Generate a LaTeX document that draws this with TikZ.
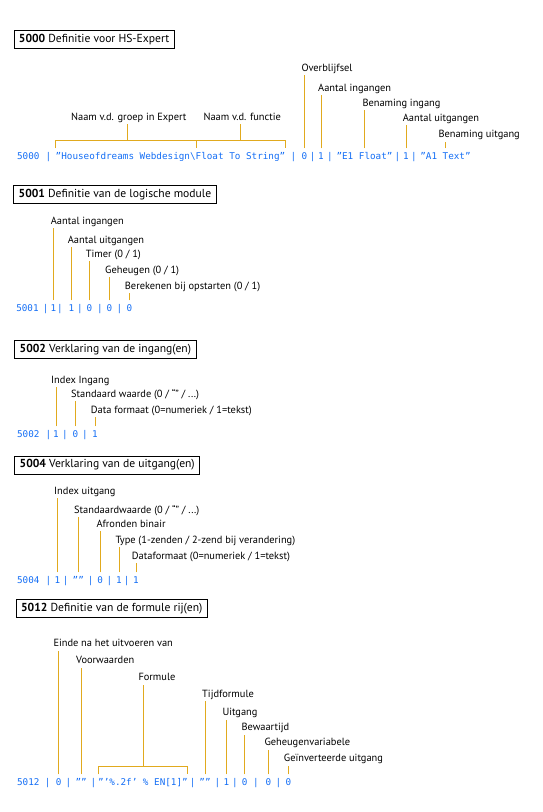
\documentclass[tikz,border=0pt]{standalone}
\usepackage{fontspec}
\setmainfont{PT Sans}
\newfontfamily\codefont{DejaVu Sans Mono}
\definecolor{codeblue}{RGB}{20,110,245}
\definecolor{leadgold}{RGB}{225,170,30}
\tikzset{
    code/.style={font=\codefont\fontsize{9.3}{11}\selectfont, text=codeblue, inner sep=0pt, text height=7pt, text depth=2pt},
    lbl/.style={font=\fontsize{10.4}{12}\selectfont, inner sep=0pt, text depth=2pt, anchor=base west},
    titlebox/.style={draw, line width=0.9pt, anchor=west, inner xsep=5pt, inner ysep=0pt, minimum height=18pt, font=\fontsize{11.6}{13}\selectfont},
    lead/.style={draw=leadgold, line width=1pt},
    tick/.style={lead, shorten <=4pt, shorten >=1.5pt}
}
\begin{document}
\begin{tikzpicture}[x=1pt,y=-1pt]
\useasboundingbox (0,0) rectangle (542,812);
% 5000
    \node[titlebox] (t1) at (13.5,39.5) {\textbf{5000} Definitie voor HS-Expert};
    % Code line
    \foreach \x/\c [count=\i] in {28.3/5000, 48.3/|, 170.5/{”Houseofdreams Webdesign\textbackslash Float To String”}, 293.3/|, 304.3/0, 312.7/|, 321/1, 330/|, 364.5/{”E1 Float”}, 397.3/|, 406/1, 414/|, 445.5/{”A1 Text”}}{
        \node[code] (a\i) at (\x,157) {\c};
    }
    % Fields
    \foreach \f/\x/\y/\t in {a5/301.4/71.5/Overblijfsel, a7/318/91.3/Aantal ingangen, a9/362.3/106/Benaming ingang, a11/402.7/121.3/Aantal uitgangen, a13/438.3/137.8/Benaming uitgang}{
        \node[lbl] (l\f) at (\x,\y) {\t};
        \draw[tick] (\f.north) -- (\f.north |- l\f.south);
    }
    % Bracket over the name
    \draw[lead] ([yshift=4pt]a3.north west) -- ([yshift=12pt]a3.north west) -- ([yshift=12pt]a3.north east) -- ([yshift=4pt]a3.north east);
    \coordinate (bs) at (196.3,140.5);
    \draw[lead, shorten >=4pt] (bs) -- (bs |- a3.north);
    \coordinate (n1) at (127.5,140.5);
    \coordinate (n2) at (240.2,140.5);
    \node[lbl] (ln1) at (70.9,120.5) {Naam v.d. groep in Expert};
    \node[lbl] (ln2) at (203.3,120.5) {Naam v.d. functie};
    \draw[lead, shorten >=1.5pt] (n1) -- (n1 |- ln1.south);
    \draw[lead, shorten >=1.5pt] (n2) -- (n2 |- ln2.south);

% 5001
    \node[titlebox] (t2) at (13.3,194.5) {\textbf{5001} Definitie van de logische module};
    \foreach \x/\c [count=\i] in {27.5/5001, 45.7/|, 53.3/1, 60/|, 71.5/1, 80/|, 89.3/0, 100/|, 109.3/0, 119.3/|, 129.3/0}{
        \node[code] (b\i) at (\x,309) {\c};
    }
    \foreach \f/\x/\y/\t in {b3/50.7/224.5/Aantal ingangen, b5/67.7/243.5/Aantal uitgangen, b7/85.7/257.5/{Timer (0 / 1)}, b9/105/273.5/{Geheugen (0 / 1)}, b11/124.7/289.5/{Berekenen bij opstarten (0 / 1)}}{
        \node[lbl] (l\f) at (\x,\y) {\t};
        \draw[tick] (\f.north) -- (\f.north |- l\f.south);
    }

% 5002
    \node[titlebox] (t3) at (14.3,349.5) {\textbf{5002} Verklaring van de ingang(en)};
    \foreach \x/\c [count=\i] in {28.3/5002, 48.3/|, 56/1, 65/|, 75.5/0, 85/|, 95/1}{
        \node[code] (c\i) at (\x,435) {\c};
    }
    \foreach \f/\x/\y/\t in {c3/51/383.5/Index Ingang, c5/71/397.5/{Standaard waarde (0 / “” / ...)}, c7/90.7/413.5/{Data formaat (0=numeriek / 1=tekst)}}{
        \node[lbl] (l\f) at (\x,\y) {\t};
        \draw[tick] (\f.north) -- (\f.north |- l\f.south);
    }

% 5004
    \node[titlebox] (t4) at (14.3,465) {\textbf{5004} Verklaring van de uitgang(en)};
    \foreach \x/\c [count=\i] in {28.3/5004, 48.3/|, 57.3/1, 65.7/|, 78.3/””, 90.7/|, 100.2/0, 109.3/|, 119/1, 126.7/|, 136/1}{
        \node[code] (d\i) at (\x,581) {\c};
    }
    \foreach \f/\x/\y/\t in {d3/54/494.5/Index uitgang, d5/74/513.5/{Standaardwaarde (0 / “” / ...)}, d7/96.3/527.5/Afronden binair, d9/115.3/543.5/{Type (1-zenden / 2-zend bij verandering)}, d11/131.7/559.5/{Dataformaat (0=numeriek / 1=tekst)}}{
        \node[lbl] (l\f) at (\x,\y) {\t};
        \draw[tick] (\f.north) -- (\f.north |- l\f.south);
    }

% 5012
    \node[titlebox] (t5) at (15.7,608.5) {\textbf{5012} Definitie van de formule rij(en)};
    \foreach \x/\c [count=\i] in {28.3/5012, 47.7/|, 58.6/0, 68.3/|, 81.2/””, 93.3/|, 143/{”’\%.2f’ \% EN[1]”}, 192.7/|, 205/””, 217.3/|, 226.3/1, 235/|, 244.6/0, 256/|, 268.3/0, 278.3/|, 288.4/0}{
        \node[code] (e\i) at (\x,783) {\c};
    }
    \foreach \f/\x/\y/\t in {e3/53.3/646.8/Einde na het uitvoeren van, e5/76/663.8/Voorwaarden, e9/202/697.5/Tijdformule, e11/222.3/715.8/Uitgang, e13/241.3/730.8/Bewaartijd, e15/264.3/745.8/Geheugenvariabele, e17/283.7/761.8/Geïnverteerde uitgang}{
        \node[lbl] (l\f) at (\x,\y) {\t};
        \draw[tick] (\f.north) -- (\f.north |- l\f.south);
    }
    % Bracket over the formula
    \draw[lead] ([yshift=4pt]e7.north west) -- ([yshift=12pt]e7.north west) -- ([yshift=12pt]e7.north east) -- ([yshift=4pt]e7.north east);
    \coordinate (fm) at ([yshift=12pt]e7.north);
    \node[lbl] (lfm) at (138.3,680.8) {Formule};
    \draw[lead, shorten >=1.5pt] (fm) -- (fm |- lfm.south);
\end{tikzpicture}
\end{document}
